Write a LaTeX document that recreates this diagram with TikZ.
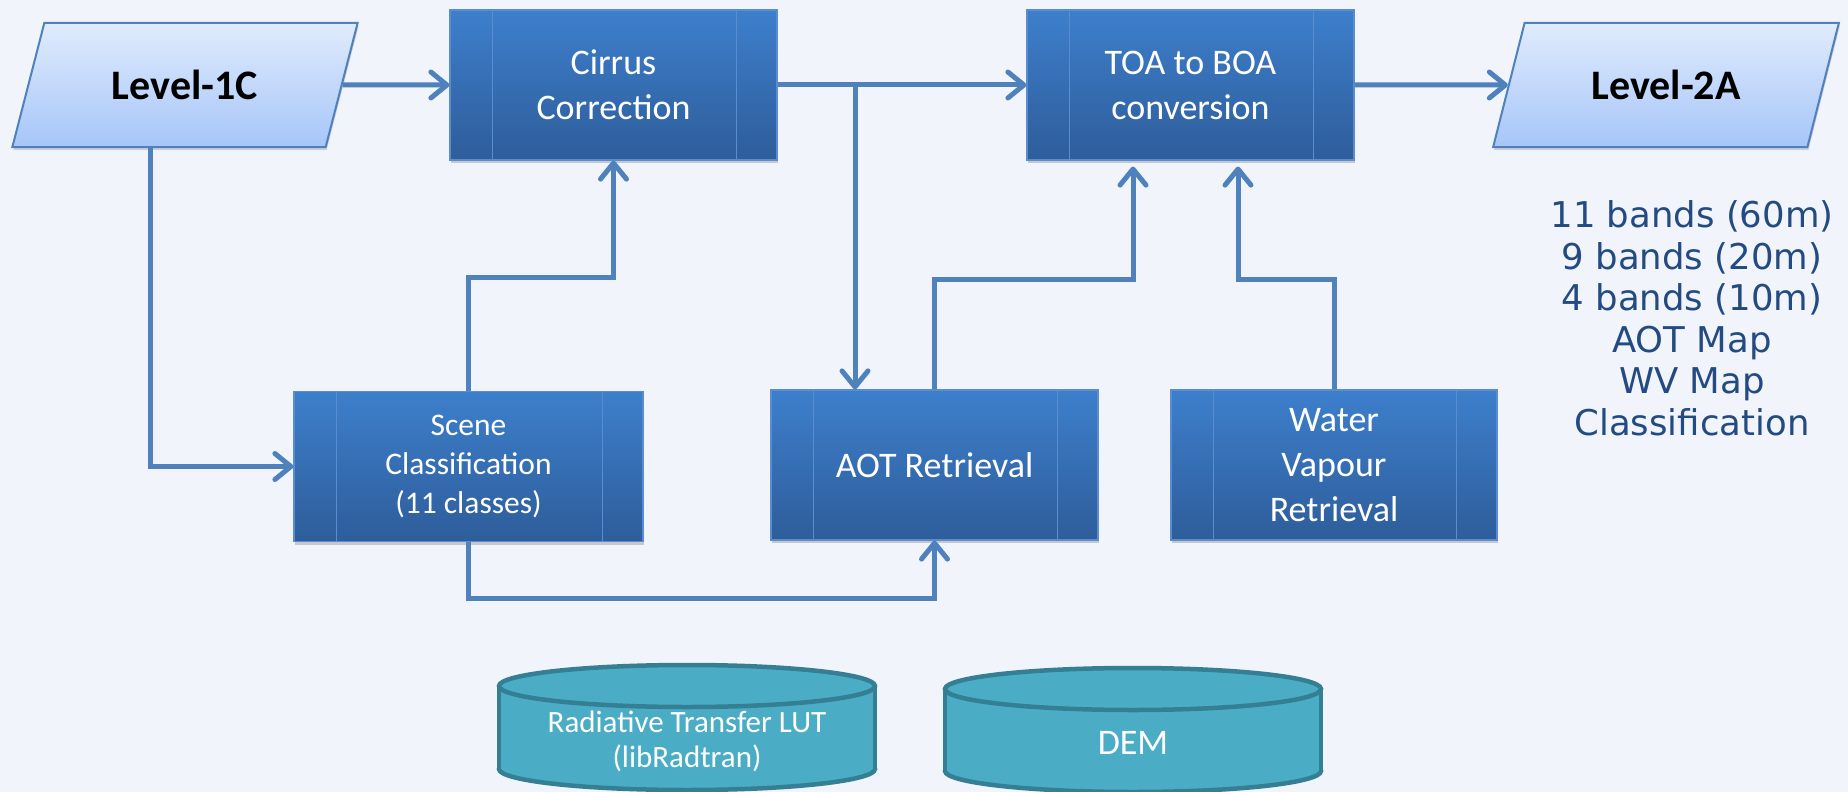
\documentclass[tikz,border=0pt]{standalone}
\usepackage{fontspec}
\setmainfont{Carlito}
\newfontfamily\verd{DejaVu Sans}
\usetikzlibrary{arrows.meta,shapes.geometric,shadows,calc}
\definecolor{bg}{HTML}{F1F4FA}
\definecolor{boxtop}{HTML}{3D7FCC}
\definecolor{boxbot}{HTML}{2E5D9A}
\definecolor{boxline}{HTML}{5A8DCF}
\definecolor{conn}{HTML}{4F81BD}
\definecolor{paratop}{HTML}{E0EBFC}
\definecolor{parabot}{HTML}{A6C6F9}
\definecolor{cylfill}{HTML}{4BACC6}
\definecolor{cyledge}{HTML}{357F94}
\definecolor{outtext}{HTML}{234B82}
\tikzset{
  proc/.style={draw=boxline, line width=1.2pt, top color=boxtop, bottom color=boxbot,
    minimum height=150pt, inner sep=0pt, text=white, align=center,
    font=\fontsize{36}{45}\selectfont,
    drop shadow={shadow xshift=1pt, shadow yshift=-3pt, opacity=0.18, fill=black},
    path picture={
      \draw[boxline, line width=1pt] ([xshift=42pt]path picture bounding box.north west) -- ([xshift=42pt]path picture bounding box.south west);
      \draw[boxline, line width=1pt] ([xshift=-41pt]path picture bounding box.north east) -- ([xshift=-41pt]path picture bounding box.south east);
    }},
  para/.style={trapezium, trapezium left angle=60.9, trapezium right angle=119.1,
    trapezium stretches=true, minimum width=346pt, minimum height=124pt, inner sep=0pt,
    draw=conn, line width=2pt, top color=paratop, bottom color=parabot, text=black,
    font=\bfseries\fontsize{42}{50}\selectfont,
    drop shadow={shadow xshift=1pt, shadow yshift=-3pt, opacity=0.15, fill=black}},
  conn/.style={draw=conn, line width=5pt, -{Straight Barb[length=16pt,width=26pt,round]}},
  cylpart/.style={fill=cylfill, draw=cyledge, line width=4.5pt},
  cyltext/.style={text=white, align=center, inner sep=0pt},
  outtxt/.style={text=outtext, align=center, inner sep=0pt, font=\verd\fontsize{35.5}{41.5}\selectfont}
}
\begin{document}
\begin{tikzpicture}[x=1pt,y=-1pt]
\fill[bg] (0,0) rectangle (1848,792);
\useasboundingbox (0,0) rectangle (1848,792);

% cylinders
\filldraw[cylpart] (687,769) ellipse [x radius=188, y radius=21];
\fill[cylfill] (499,686) rectangle (875,769);
\draw[cylpart] (499,686) -- (499,769) (875,686) -- (875,769);
\filldraw[cylpart] (687,686) ellipse [x radius=188, y radius=21];
\node[cyltext, font=\fontsize{31}{35}\selectfont] (RT) at (687,741) {Radiative Transfer LUT\\(libRadtran)};

\filldraw[cylpart] (1133,771) ellipse [x radius=188, y radius=21];
\fill[cylfill] (945,689) rectangle (1321,771);
\draw[cylpart] (945,689) -- (945,771) (1321,689) -- (1321,771);
\filldraw[cylpart] (1133,689) ellipse [x radius=188, y radius=21];
\node[cyltext, font=\fontsize{36}{42}\selectfont] (DEM) at (1133,743) {DEM};

% nodes
\node[para] (L1C) at (185,85) {Level-1C};
\node[para] (L2A) at (1666,85) {Level-2A};
\node[proc, minimum width=327pt] (CC) at (613.5,85) {Cirrus\\Correction};
\node[proc, minimum width=327pt] (TOA) at (1190.5,85) {TOA to BOA\\conversion};
\node[proc, minimum width=349pt, font=\fontsize{31.5}{39}\selectfont] (SC) at (468.5,466.5) {Scene\\Classification\\(11 classes)};
\node[proc, minimum width=327pt] (AOT) at (934.5,465) {AOT Retrieval};
\node[proc, minimum width=326pt] (WV) at (1334,465) {Water\\Vapour\\Retrieval};

\node[outtxt] (OUT) at (1692,318.5) {11 bands (60m)\\9 bands (20m)\\4 bands (10m)\\AOT Map\\WV Map\\Classification};

% helper coordinates
\coordinate (J) at (855,85);
\coordinate (L1Cb) at ($(L1C.center)+(-35,61)$);
\coordinate (yA) at (0,277);
\coordinate (yB) at (0,598);
\coordinate (yC) at (0,279);
\coordinate (TOAa) at ([xshift=-57.5pt]TOA.south);
\coordinate (TOAb) at ([xshift=47.5pt]TOA.south);

% connectors
\draw[conn] (L1C.east) -- (CC.west);
\draw[conn] (CC.east) -- (TOA.west);
\draw[conn] (J) -- (J |- AOT.north);
\draw[conn] (TOA.east) -- (L2A.west);
\draw[conn] (L1Cb) |- (SC.west);
\draw[conn] (SC.north) -- (SC.north |- yA) -| (CC.south);
\draw[conn] (SC.south) -- (SC.south |- yB) -| (AOT.south);
\draw[conn, shorten >=6pt] (AOT.north) -- (AOT.north |- yC) -| (TOAa);
\draw[conn, shorten >=6pt] (WV.north) -- (WV.north |- yC) -| (TOAb);
\end{tikzpicture}
\end{document}
